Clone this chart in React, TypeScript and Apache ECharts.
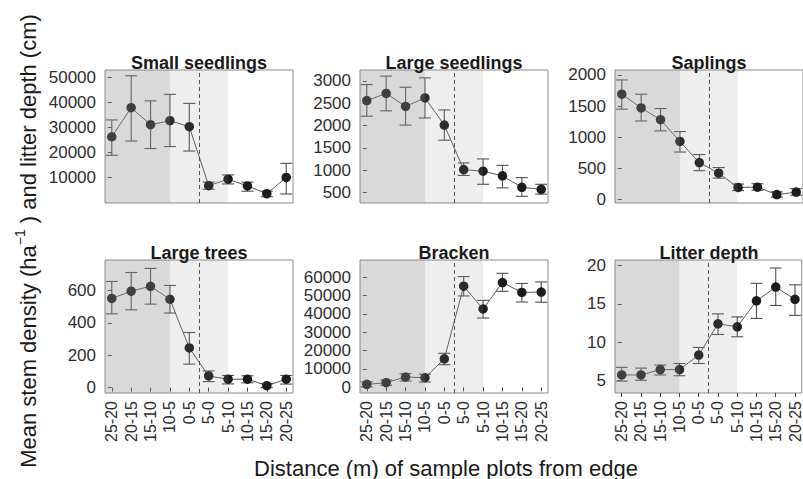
import React, { useEffect, useRef } from "react";
import * as echarts from "echarts";

// Distance classes (m): interior plots first, then across the edge into the open
const categories = ["25-20", "20-15", "15-10", "10-5", "0-5", "5-0", "5-10", "10-15", "15-20", "20-25"];

// Small seedlings (stems ha-1)
const smallSeedlingsMean = [26300, 37900, 31100, 32700, 30300, 6800, 9400, 6700, 3600, 10100];
const smallSeedlingsLow = [18900, 24600, 21600, 22400, 20600, 5400, 7500, 4600, 2400, 3500];
const smallSeedlingsHigh = [33000, 50600, 40600, 43200, 39600, 8200, 11100, 8200, 4600, 15700];
const smallSeedlingsTicks = [10000, 20000, 30000, 40000, 50000];

// Large seedlings (stems ha-1)
const largeSeedlingsMean = [2560, 2720, 2430, 2620, 2010, 1010, 975, 870, 612, 567];
const largeSeedlingsLow = [2210, 2330, 2010, 2170, 1670, 880, 680, 600, 410, 460];
const largeSeedlingsHigh = [2920, 3110, 2860, 3070, 2350, 1160, 1250, 1105, 830, 680];
const largeSeedlingsTicks = [500, 1000, 1500, 2000, 2500, 3000];

// Saplings (stems ha-1)
const saplingsMean = [1690, 1470, 1280, 930, 590, 420, 190, 195, 75, 115];
const saplingsLow = [1450, 1260, 1100, 760, 460, 340, 140, 145, 35, 65];
const saplingsHigh = [1920, 1690, 1460, 1090, 720, 510, 245, 250, 120, 170];
const saplingsTicks = [0, 500, 1000, 1500, 2000];

// Large trees (stems ha-1)
const largeTreesMean = [550, 595, 625, 545, 245, 72, 52, 52, 12, 52];
const largeTreesLow = [455, 480, 515, 460, 145, 37, 23, 30, 0, 22];
const largeTreesHigh = [655, 710, 735, 630, 340, 103, 75, 73, 25, 75];
const largeTreesTicks = [0, 200, 400, 600];

// Bracken (fronds ha-1)
const brackenMean = [1600, 2500, 5600, 5200, 15500, 55000, 42600, 57000, 51600, 51800];
const brackenLow = [200, 1100, 3400, 2900, 12300, 49700, 37700, 52200, 46400, 46300];
const brackenHigh = [3000, 4000, 7400, 7100, 18500, 60200, 47300, 62000, 56500, 57300];
const brackenTicks = [0, 10000, 20000, 30000, 40000, 50000, 60000];

// Litter depth (cm)
const litterMean = [5.7, 5.7, 6.4, 6.4, 8.3, 12.4, 12.0, 15.4, 17.2, 15.6];
const litterLow = [4.9, 5.0, 5.7, 5.6, 7.2, 11.0, 10.7, 13.1, 14.8, 13.5];
const litterHigh = [6.7, 6.6, 7.0, 7.2, 9.3, 13.7, 13.3, 17.7, 19.7, 17.5];
const litterTicks = [5, 10, 15, 20];

// Zones along the transect (category positions)
const forestZoneEnd = 3;
const edgeZoneEnd = 6;
const edgeLine = 4.5;

const panels = [
  { title: "Small seedlings", mean: smallSeedlingsMean, low: smallSeedlingsLow, high: smallSeedlingsHigh, ticks: smallSeedlingsTicks, yMin: -100, yMax: 52900 },
  { title: "Large seedlings", mean: largeSeedlingsMean, low: largeSeedlingsLow, high: largeSeedlingsHigh, ticks: largeSeedlingsTicks, yMin: 260, yMax: 3247 },
  { title: "Saplings", mean: saplingsMean, low: saplingsLow, high: saplingsHigh, ticks: saplingsTicks, yMin: -60, yMax: 2080 },
  { title: "Large trees", mean: largeTreesMean, low: largeTreesLow, high: largeTreesHigh, ticks: largeTreesTicks, yMin: -33, yMax: 787 },
  { title: "Bracken", mean: brackenMean, low: brackenLow, high: brackenHigh, ticks: brackenTicks, yMin: -3100, yMax: 69250 },
  { title: "Litter depth", mean: litterMean, low: litterLow, high: litterHigh, ticks: litterTicks, yMin: 3.34, yMax: 20.75 },
];

// Panel layout
const colLefts = [105, 360, 615];
const rowTops = [70, 260];
const panelW = 188;
const panelH = 133;
const X_MIN = -0.35;
const X_MAX = 9.35;

const FONT = "'Liberation Sans', Arial, Helvetica, sans-serif";

function buildOption() {
  const grid: any[] = [];
  const xAxis: any[] = [];
  const yAxis: any[] = [];
  const series: any[] = [];
  const graphic: any[] = [];
  const catIdx = categories.map((_, i) => i);

  panels.forEach((p, k) => {
    const row = Math.floor(k / 3);
    const col = k % 3;
    const left = colLefts[col];
    const top = rowTops[row];
    grid.push({
      left,
      top,
      width: panelW,
      height: panelH,
      show: true,
      borderColor: "#8a8a8a",
      borderWidth: 1,
      backgroundColor: "transparent",
      containLabel: false,
    });
    const bottomRow = row === 1;
    xAxis.push({
      type: "value",
      gridIndex: k,
      min: X_MIN,
      max: X_MAX,
      axisLine: { show: false },
      splitLine: { show: false },
      axisTick: {
        show: bottomRow,
        customValues: catIdx,
        length: 4,
        lineStyle: { color: "#444", width: 1 },
      },
      axisLabel: {
        show: bottomRow,
        customValues: catIdx,
        rotate: 90,
        margin: 8,
        fontSize: 16,
        fontFamily: FONT,
        color: "#2e2e2e",
        formatter: (v: number) => categories[Math.round(v)] ?? "",
      },
    });
    yAxis.push({
      type: "value",
      gridIndex: k,
      min: p.yMin,
      max: p.yMax,
      axisLine: { show: false },
      splitLine: { show: false },
      axisTick: {
        show: true,
        customValues: p.ticks,
        length: 4,
        lineStyle: { color: "#444", width: 1 },
      },
      axisLabel: {
        customValues: p.ticks,
        margin: 9,
        fontSize: 17,
        fontFamily: FONT,
        color: "#2e2e2e",
        formatter: (v: number) => String(v),
      },
    });

    // error bars
    series.push({
      type: "custom",
      xAxisIndex: k,
      yAxisIndex: k,
      z: 2,
      silent: true,
      data: p.mean.map((_, i) => [i, p.low[i], p.high[i]]),
      encode: { x: 0, y: [1, 2] },
      renderItem: (params: any, api: any) => {
        const x = api.value(0);
        const lo = api.coord([x, api.value(1)]);
        const hi = api.coord([x, api.value(2)]);
        const half = api.size([0.62, 0])[0] / 2;
        const style = { stroke: "#505050", lineWidth: 1.1 };
        return {
          type: "group",
          children: [
            { type: "line", shape: { x1: lo[0], y1: lo[1], x2: hi[0], y2: hi[1] }, style },
            { type: "line", shape: { x1: hi[0] - half, y1: hi[1], x2: hi[0] + half, y2: hi[1] }, style },
            { type: "line", shape: { x1: lo[0] - half, y1: lo[1], x2: lo[0] + half, y2: lo[1] }, style },
          ],
        };
      },
    });

    // means joined by a line, with the dashed edge line
    series.push({
      type: "line",
      xAxisIndex: k,
      yAxisIndex: k,
      z: 3,
      silent: true,
      data: p.mean.map((v, i) => [i, v]),
      symbol: "circle",
      symbolSize: 9.5,
      itemStyle: { color: "#1c1c1c" },
      lineStyle: { color: "#5a5a5a", width: 1 },
      markLine: {
        silent: true,
        symbol: ["none", "none"],
        label: { show: false },
        lineStyle: { color: "#333", type: [4, 3], width: 0.9 },
        data: [{ xAxis: edgeLine }],
      },
    });

    // translucent forest / edge zones laid over the marks
    series.push({
      type: "custom",
      xAxisIndex: k,
      yAxisIndex: k,
      z: 10,
      silent: true,
      data: [
        [X_MIN, forestZoneEnd, 0.33],
        [forestZoneEnd, edgeZoneEnd, 0.15],
      ],
      encode: { x: [0, 1] },
      renderItem: (params: any, api: any) => {
        const cs = params.coordSys;
        const x0 = api.coord([api.value(0), 0])[0];
        const x1 = api.coord([api.value(1), 0])[0];
        return {
          type: "rect",
          shape: { x: x0, y: cs.y, width: x1 - x0, height: cs.height },
          style: { fill: "#8c8c8c", opacity: api.value(2) },
        };
      },
    });

    graphic.push({
      type: "text",
      x: left + panelW / 2,
      y: top + 2,
      z: 20,
      style: {
        text: p.title,
        fontFamily: FONT,
        fontWeight: "bold",
        fontSize: 18,
        fill: "#1a1a1a",
        textAlign: "center",
        textVerticalAlign: "bottom",
      },
    });
  });

  graphic.push({
    type: "text",
    x: 446,
    y: 468,
    style: {
      text: "Distance (m) of sample plots from edge",
      fontFamily: FONT,
      fontSize: 22,
      fill: "#1a1a1a",
      textAlign: "center",
      textVerticalAlign: "middle",
    },
  });

  graphic.push({
    type: "text",
    x: 26,
    y: 241,
    rotation: Math.PI / 2,
    style: {
      text: "{n|Mean stem density (ha}{s|−1}{n| ) and litter depth (cm)}",
      fontFamily: FONT,
      fontSize: 22,
      fill: "#1a1a1a",
      textAlign: "center",
      textVerticalAlign: "middle",
      rich: {
        n: { fontSize: 22, fontFamily: FONT, fill: "#1a1a1a", lineHeight: 26, verticalAlign: "bottom" },
        s: { fontSize: 14, fontFamily: FONT, fill: "#1a1a1a", lineHeight: 14, verticalAlign: "top" },
      },
    },
  });

  return {
    animation: false,
    backgroundColor: "#ffffff",
    grid,
    xAxis,
    yAxis,
    series,
    graphic,
  };
}

export default function App() {
  const ref = useRef<HTMLDivElement>(null);
  useEffect(() => {
    if (!ref.current) return;
    const chart = echarts.init(ref.current, undefined, { renderer: "svg" });
    chart.setOption(buildOption() as any);
    return () => chart.dispose();
  }, []);
  return (
    <div
      ref={ref}
      style={{ position: "fixed", left: 0, top: 0, width: 803, height: 479, background: "#fff" }}
    />
  );
}
